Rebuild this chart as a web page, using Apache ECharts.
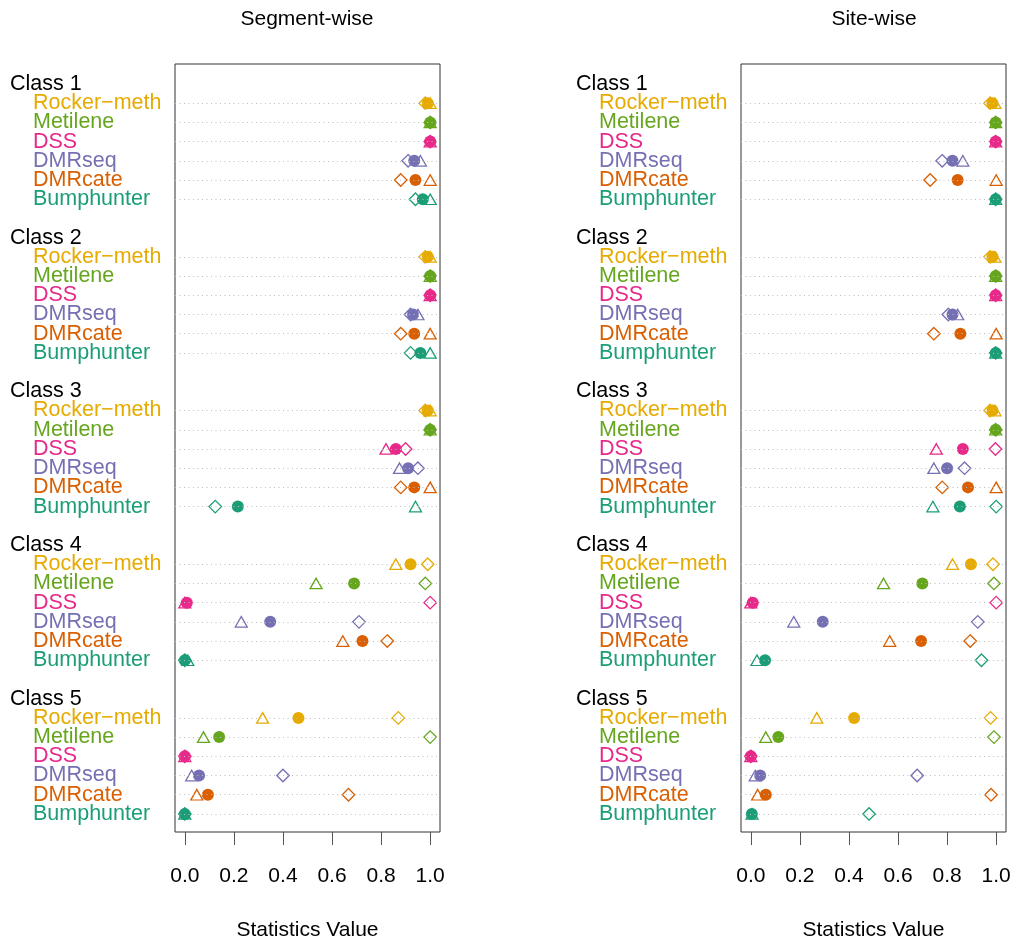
<!DOCTYPE html>
<html>
<head>
<meta charset="utf-8">
<title>Segment-wise / Site-wise</title>
<script src="https://cdn.jsdelivr.net/npm/echarts@6/dist/echarts.min.js"></script>
<style>
  html, body { margin: 0; padding: 0; background: #fff; }
  #chart { width: 1016px; height: 946px; }
</style>
</head>
<body>
<div id="chart"></div>
<script>
// methods in each class block, top to bottom
const methods = ['Rocker\u2212meth', 'Metilene', 'DSS', 'DMRseq', 'DMRcate', 'Bumphunter'];
const classes = ['Class 1', 'Class 2', 'Class 3', 'Class 4', 'Class 5'];
const methodColors = ['#E6AB02', '#66A61E', '#E7298A', '#7570B3', '#D95F02', '#1B9E77'];
const xTicks = [0, 0.2, 0.4, 0.6, 0.8, 1.0];

// Segment-wise: one row per class, values per method
const segCircle = [
    [0.99, 1.0, 1.0, 0.935, 0.94, 0.97],
    [0.99, 1.0, 1.0, 0.93, 0.935, 0.96],
    [0.99, 1.0, 0.86, 0.91, 0.935, 0.216],
    [0.92, 0.69, 0.008, 0.348, 0.724, 0.0],
    [0.463, 0.14, 0.0, 0.058, 0.094, 0.0]
];
const segTriangle = [
    [1.0, 1.0, 1.0, 0.96, 1.0, 1.0],
    [1.0, 1.0, 1.0, 0.95, 1.0, 1.0],
    [1.0, 1.0, 0.82, 0.875, 1.0, 0.94],
    [0.86, 0.535, 0.0, 0.23, 0.644, 0.012],
    [0.317, 0.076, 0.0, 0.028, 0.049, 0.0]
];
const segDiamond = [
    [0.98, 1.0, 1.0, 0.91, 0.88, 0.94],
    [0.98, 1.0, 1.0, 0.92, 0.88, 0.92],
    [0.98, 1.0, 0.90, 0.95, 0.88, 0.124],
    [0.99, 0.98, 1.0, 0.71, 0.825, 0.0],
    [0.87, 1.0, 0.0, 0.40, 0.667, 0.0]
];

// Site-wise
const siteCircle = [
    [0.985, 0.998, 0.998, 0.822, 0.843, 0.998],
    [0.985, 0.998, 0.998, 0.822, 0.854, 0.998],
    [0.985, 0.998, 0.864, 0.80, 0.885, 0.852],
    [0.897, 0.699, 0.008, 0.293, 0.694, 0.058],
    [0.421, 0.112, 0.0, 0.038, 0.061, 0.004]
];
const siteTriangle = [
    [0.995, 0.998, 0.998, 0.864, 1.0, 0.998],
    [0.995, 0.998, 0.998, 0.843, 1.0, 0.998],
    [0.995, 0.998, 0.756, 0.746, 1.0, 0.742],
    [0.822, 0.541, 0.0, 0.175, 0.566, 0.025],
    [0.269, 0.061, 0.0, 0.018, 0.028, 0.005]
];
const siteDiamond = [
    [0.975, 0.998, 0.998, 0.78, 0.731, 0.998],
    [0.975, 0.998, 0.998, 0.805, 0.746, 0.998],
    [0.975, 0.998, 0.997, 0.871, 0.78, 1.0],
    [0.987, 0.991, 1.0, 0.925, 0.894, 0.94],
    [0.977, 0.991, 0.0, 0.678, 0.979, 0.482]
];

const FONT = 'Liberation Sans, Arial, Helvetica, sans-serif';
const gridLefts = [175, 741];

// row layout like R dotchart with groups: class label row, then the 6 methods, then a gap
function methodRow(c, m) { return c * 8 + m; }
function classRow(c) { return c * 8 - 1; }

let lineRows = [];
classes.forEach(function (cl, c) {
    methods.forEach(function (m, j) { lineRows.push(methodRow(c, j)); });
});

function points(values, filled) {
    let out = [];
    values.forEach(function (row, c) {
        row.forEach(function (v, j) {
            let col = methodColors[j];
            out.push({
                value: [v, methodRow(c, j)],
                itemStyle: filled
                    ? { color: col, borderWidth: 0, opacity: 1 }
                    : { color: 'rgba(0,0,0,0)', borderColor: col, borderWidth: 1.3, opacity: 1 }
            });
        });
    });
    return out;
}

function makeX(idx) {
    return {
        gridIndex: idx, type: 'value', min: -0.04, max: 1.04,
        name: 'Statistics Value', nameLocation: 'middle', nameGap: 88,
        nameTextStyle: { fontSize: 21, fontFamily: FONT, color: '#000' },
        splitLine: { show: false },
        axisLine: { show: false, onZero: false },
        axisTick: { show: true, customValues: xTicks, length: 13, lineStyle: { color: '#555', width: 1 } },
        axisLabel: {
            customValues: xTicks, margin: 34, fontSize: 21, fontFamily: FONT, color: '#000',
            formatter: function (v) { return v.toFixed(1); }
        }
    };
}

function makeY(idx) {
    return {
        gridIndex: idx, type: 'value', inverse: true, min: -2.04, max: 37.94,
        splitLine: { show: false },
        axisLine: { show: false, onZero: false },
        axisTick: { show: false },
        axisLabel: { show: false }
    };
}

function panelSeries(idx, tri, dia, circ) {
    return [
        {
            name: 'grid lines', type: 'scatter', xAxisIndex: idx, yAxisIndex: idx, data: [], z: 1,
            silent: true,
            markLine: {
                silent: true, symbol: ['none', 'none'], label: { show: false }, animation: false,
                lineStyle: { color: '#bdbdbd', type: [1, 3.5], width: 1 },
                emphasis: { disabled: true },
                data: lineRows.map(function (r) { return { yAxis: r }; })
            }
        },
        { name: 'triangle', type: 'scatter', xAxisIndex: idx, yAxisIndex: idx, symbol: 'triangle', symbolSize: [12, 10.5], z: 3, data: points(tri, false) },
        { name: 'diamond', type: 'scatter', xAxisIndex: idx, yAxisIndex: idx, symbol: 'diamond', symbolSize: [12.5, 12.5], z: 3, data: points(dia, false) },
        { name: 'F1', type: 'scatter', xAxisIndex: idx, yAxisIndex: idx, symbol: 'circle', symbolSize: 12, z: 4, data: points(circ, true) }
    ];
}

let myChart = echarts.init(document.getElementById('chart'), null, { renderer: 'canvas' });

let option = {
    animation: false,
    backgroundColor: '#fff',
    textStyle: { fontFamily: FONT },
    title: [
        { text: 'Segment-wise', left: 307, textAlign: 'center', top: 9, padding: 0,
          textStyle: { fontSize: 21, fontWeight: 'normal', fontFamily: FONT, color: '#000' } },
        { text: 'Site-wise', left: 874, textAlign: 'center', top: 9, padding: 0,
          textStyle: { fontSize: 21, fontWeight: 'normal', fontFamily: FONT, color: '#000' } }
    ],
    grid: [
        { left: gridLefts[0], top: 64, width: 265, height: 770, show: true, borderColor: '#333', borderWidth: 1, backgroundColor: 'transparent' },
        { left: gridLefts[1], top: 64, width: 265, height: 770, show: true, borderColor: '#333', borderWidth: 1, backgroundColor: 'transparent' }
    ],
    xAxis: [makeX(0), makeX(1)],
    yAxis: [makeY(0), makeY(1)],
    series: panelSeries(0, segTriangle, segDiamond, segCircle)
        .concat(panelSeries(1, siteTriangle, siteDiamond, siteCircle))
};

myChart.setOption(option);

// row labels (dotchart group labels), placed on each panel's y scale
let labels = [];
[0, 1].forEach(function (idx) {
    let x0 = gridLefts[idx] - 165;
    function rowY(r) { return myChart.convertToPixel({ gridIndex: idx }, [0, r])[1]; }
    classes.forEach(function (cl, c) {
        labels.push({
            type: 'text', x: x0, y: rowY(classRow(c)), silent: true,
            style: { text: cl, fill: '#000', fontSize: 21.5, fontFamily: FONT, verticalAlign: 'middle', align: 'left' }
        });
        methods.forEach(function (m, j) {
            labels.push({
                type: 'text', x: x0 + 23, y: rowY(methodRow(c, j)), silent: true,
                style: { text: m, fill: methodColors[j], fontSize: 21.5, fontFamily: FONT, verticalAlign: 'middle', align: 'left' }
            });
        });
    });
});
myChart.setOption({ graphic: labels });
</script>
</body>
</html>
